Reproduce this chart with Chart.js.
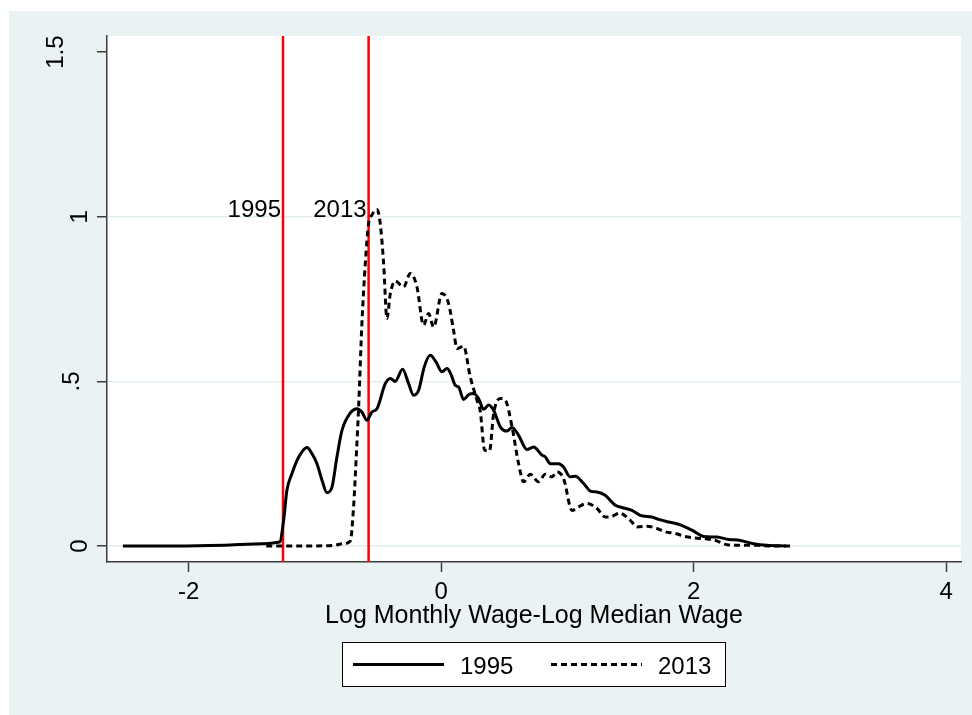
<!DOCTYPE html>
<html>
<head>
<meta charset="utf-8">
<script src="https://cdn.jsdelivr.net/npm/chart.js@4.4.1/dist/chart.umd.min.js"></script>
<style>
    html, body { margin: 0; padding: 0; background: #fff; }
    canvas { display: block; }
</style>
</head>
<body>
<canvas id="density" width="972" height="715"></canvas>
<script>
// kernel density of log monthly wage minus log median wage, 1995
var density1995X = [-2.52, -2.2, -1.93, -1.67, -1.485, -1.279, -1.247, -1.221, -1.181, -1.141,
    -1.102, -1.062, -1.023, -0.983, -0.943, -0.904, -0.864, -0.825, -0.785, -0.719,
    -0.666, -0.627, -0.587, -0.548, -0.508, -0.442, -0.402, -0.363, -0.305, -0.257,
    -0.218, -0.178, -0.133, -0.086, -0.04, 0.007, 0.047, 0.08, 0.112, 0.139,
    0.178, 0.22, 0.257, 0.297, 0.337, 0.376, 0.416, 0.469, 0.522, 0.562,
    0.614, 0.68, 0.733, 0.799, 0.825, 0.865, 0.931, 0.97, 1.023, 1.063,
    1.129, 1.182, 1.235, 1.3, 1.38, 1.433, 1.512, 1.578, 1.67, 1.723,
    1.802, 1.881, 1.987, 2.079, 2.185, 2.277, 2.37, 2.475, 2.581, 2.73];
var density1995Y = [0.0, 0.0, 0.001, 0.003, 0.006, 0.012, 0.078, 0.169, 0.22, 0.26,
    0.286, 0.299, 0.281, 0.25, 0.2, 0.162, 0.179, 0.27, 0.351, 0.404,
    0.417, 0.407, 0.382, 0.407, 0.417, 0.493, 0.509, 0.5, 0.537, 0.493,
    0.458, 0.473, 0.544, 0.579, 0.559, 0.529, 0.539, 0.52, 0.488, 0.483,
    0.445, 0.46, 0.463, 0.448, 0.415, 0.428, 0.412, 0.362, 0.349, 0.36,
    0.336, 0.293, 0.301, 0.276, 0.271, 0.25, 0.25, 0.24, 0.21, 0.212,
    0.19, 0.167, 0.164, 0.154, 0.124, 0.117, 0.108, 0.093, 0.088, 0.081,
    0.073, 0.066, 0.048, 0.029, 0.027, 0.02, 0.017, 0.007, 0.002, 0.0];

// same density for 2013
var density2013X = [-1.385, -1.1, -0.85, -0.772, -0.719, -0.693, -0.672, -0.653, -0.627, -0.6,
    -0.574, -0.548, -0.508, -0.482, -0.455, -0.429, -0.402, -0.363, -0.297, -0.244,
    -0.191, -0.139, -0.099, -0.059, 0.007, 0.059, 0.099, 0.126, 0.178, 0.231,
    0.284, 0.31, 0.345, 0.384, 0.416, 0.469, 0.509, 0.562, 0.614, 0.654,
    0.707, 0.772, 0.825, 0.878, 0.918, 0.97, 1.037, 1.089, 1.156, 1.235,
    1.3, 1.354, 1.414, 1.499, 1.552, 1.631, 1.71, 1.776, 1.855, 1.934,
    2.013, 2.093, 2.172, 2.264, 2.37, 2.5, 2.63, 2.787];
var density2013Y = [0.0, 0.0, 0.002, 0.007, 0.015, 0.119, 0.27, 0.422, 0.676, 0.858,
    0.98, 1.005, 1.022, 0.98, 0.858, 0.691, 0.767, 0.805, 0.787, 0.828,
    0.787, 0.671, 0.706, 0.665, 0.767, 0.737, 0.655, 0.6, 0.607, 0.514,
    0.443, 0.41, 0.291, 0.289, 0.402, 0.448, 0.443, 0.362, 0.25, 0.195,
    0.218, 0.195, 0.218, 0.21, 0.225, 0.205, 0.108, 0.119, 0.129, 0.114,
    0.088, 0.09, 0.1, 0.078, 0.058, 0.06, 0.053, 0.043, 0.038, 0.029,
    0.024, 0.022, 0.017, 0.004, 0.002, 0.002, 0.0, 0.0];

// minimum wage relative to the median wage, one marker per year
var minWageYears = ['1995', '2013'];
var minWageX = [-1.252, -0.574];

var xTicks = [-2, 0, 2, 4];
var yTicks = [0, 0.5, 1, 1.5];
var yTickLabels = ['0', '.5', '1', '1.5'];
var xRange = [-2.646, 4.118];
var yRange = [-0.0486, 1.549];

var xTitle = 'Log Monthly Wage-Log Median Wage';

var fontFamily = '"Liberation Sans", Arial, sans-serif';
var bgColor = 'rgb(234,242,243)';
var gridColor = 'rgb(226,237,240)';
var axisColor = '#3c3c3c';

function toPoints(xs, ys) {
    return xs.map((x, i) => ({ x: x, y: ys[i] }));
}

var datasets = [{
    label: '1995',
    data: toPoints(density1995X, density1995Y),
    borderColor: '#000',
    borderWidth: 3,
    pointRadius: 0,
    cubicInterpolationMode: 'monotone',
    order: 1
}, {
    label: '2013',
    data: toPoints(density2013X, density2013Y),
    borderColor: '#000',
    borderWidth: 3,
    borderDash: [6, 4],
    pointRadius: 0,
    cubicInterpolationMode: 'monotone',
    order: 1
}];

minWageX.forEach((x, i) => {
    datasets.push({
        label: 'min' + minWageYears[i],
        data: [{ x: x, y: yRange[0] }, { x: x, y: yRange[1] }],
        borderColor: '#ff0000',
        borderWidth: 2.5,
        pointRadius: 0,
        order: 2
    });
});

// background, rotated y labels, line labels, axis title and legend box
var stataFrame = {
    id: 'stataFrame',
    beforeDraw(chart) {
        var ctx = chart.ctx;
        var area = chart.chartArea;
        ctx.save();
        ctx.fillStyle = bgColor;
        ctx.fillRect(9, 11, chart.width - 9, chart.height - 11);
        ctx.fillStyle = '#fff';
        ctx.fillRect(area.left, area.top, area.right - area.left, area.bottom - area.top);
        ctx.restore();
    },
    afterDraw(chart) {
        var ctx = chart.ctx;
        var area = chart.chartArea;
        var xs = chart.scales.x;
        var ys = chart.scales.y;
        ctx.save();
        ctx.font = '24px ' + fontFamily;
        ctx.fillStyle = '#000';

        // y tick labels, rotated
        var w1 = ctx.measureText('1').width;
        yTicks.forEach((v, i) => {
            var label = yTickLabels[i];
            var w = ctx.measureText(label).width;
            var bx = 87 - (w - w1) * 1.2;
            ctx.save();
            ctx.translate(bx, ys.getPixelForValue(v));
            ctx.rotate(-Math.PI / 2);
            ctx.textAlign = 'center';
            ctx.textBaseline = 'alphabetic';
            ctx.fillText(label, 0, 0);
            ctx.restore();
        });

        // year labels left of the red lines
        ctx.textAlign = 'right';
        ctx.textBaseline = 'alphabetic';
        minWageX.forEach((x, i) => {
            ctx.fillText(minWageYears[i], xs.getPixelForValue(x) - 2, ys.getPixelForValue(1));
        });

        // x axis title
        ctx.font = '25px ' + fontFamily;
        ctx.textAlign = 'center';
        ctx.fillText(xTitle, (area.left + area.right) / 2, 623);
        ctx.font = '24px ' + fontFamily;

        // legend
        var box = { left: 342, top: 642, right: 726, bottom: 687 };
        ctx.fillStyle = '#fff';
        ctx.fillRect(box.left, box.top, box.right - box.left, box.bottom - box.top);
        ctx.strokeStyle = '#000';
        ctx.lineWidth = 1;
        ctx.strokeRect(box.left + 0.5, box.top + 0.5, box.right - box.left - 1, box.bottom - box.top - 1);

        var ly = 664.5;
        var keys = [
            { x: 353, dash: [], text: datasets[0].label },
            { x: 551, dash: [6, 4], text: datasets[1].label }
        ];
        keys.forEach((k) => {
            ctx.beginPath();
            ctx.setLineDash(k.dash);
            ctx.lineWidth = 3;
            ctx.moveTo(k.x, ly);
            ctx.lineTo(k.x + 91, ly);
            ctx.stroke();
            ctx.setLineDash([]);
            ctx.fillStyle = '#000';
            ctx.textAlign = 'left';
            ctx.fillText(k.text, k.x + 107, 674);
        });
        ctx.restore();
    }
};

new Chart(document.getElementById('density'), {
    type: 'line',
    data: { datasets: datasets },
    options: {
        responsive: false,
        animation: false,
        devicePixelRatio: 1,
        layout: { padding: { left: 0, top: 36, right: 11, bottom: 0 } },
        plugins: {
            legend: { display: false },
            tooltip: { enabled: false }
        },
        scales: {
            x: {
                type: 'linear',
                min: xRange[0],
                max: xRange[1],
                afterBuildTicks: (scale) => {
                    scale.ticks = xTicks.map((v) => ({ value: v }));
                },
                afterFit: (scale) => {
                    scale.height = 153;
                },
                grid: {
                    drawOnChartArea: false,
                    drawTicks: true,
                    tickLength: 10,
                    tickColor: axisColor,
                    tickWidth: 1.5
                },
                border: { display: true, color: axisColor, width: 1.5 },
                ticks: {
                    color: '#000',
                    padding: 6,
                    maxRotation: 0,
                    font: { family: fontFamily, size: 24 },
                    callback: (v) => String(v)
                }
            },
            y: {
                type: 'linear',
                min: yRange[0],
                max: yRange[1],
                afterBuildTicks: (scale) => {
                    scale.ticks = yTicks.map((v) => ({ value: v }));
                },
                afterFit: (scale) => {
                    scale.width = 107;
                },
                grid: {
                    color: (c) => (c.tick && c.tick.value === 1.5) ? 'rgba(0,0,0,0)' : gridColor,
                    lineWidth: 1.5,
                    drawTicks: true,
                    tickLength: 10,
                    tickColor: axisColor,
                    tickWidth: 1.5
                },
                border: { display: true, color: axisColor, width: 1.5 },
                ticks: {
                    color: 'rgba(0,0,0,0)',
                    font: { family: fontFamily, size: 24 }
                }
            }
        }
    },
    plugins: [stataFrame]
});
</script>
</body>
</html>
